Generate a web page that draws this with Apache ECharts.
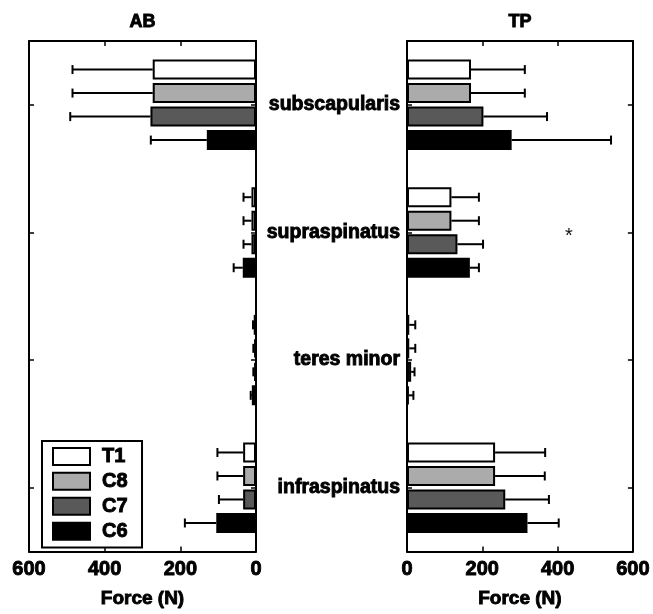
<!DOCTYPE html>
<html>
<head>
<meta charset="utf-8">
<script src="https://cdn.jsdelivr.net/npm/echarts@6/dist/echarts.min.js"></script>
<style>
  html, body { margin: 0; padding: 0; background: #fff; }
  #chart { width: 653px; height: 614px; }
</style>
</head>
<body>
<div id="chart"></div>
<script>
// Muscles (rows) and spinal levels (bar series)
const muscles = ['subscapularis', 'supraspinatus', 'teres minor', 'infraspinatus'];
const levels = ['T1', 'C8', 'C7', 'C6'];

// AB: mean force (N) per level, one value per muscle
const abMean = [
  [273, 12, 6, 34],
  [273, 12, 5, 34],
  [279, 12, 5, 34],
  [130, 35, 11, 105]
];
// AB: standard deviation (N)
const abSd = [
  [212, 21, 2, 68],
  [212, 21, 2, 68],
  [212, 21, 2, 64],
  [148, 24, 3, 83]
];

// TP: mean force (N)
const tpMean = [
  [170, 118, 6, 234],
  [170, 118, 6, 234],
  [203, 134, 11, 261],
  [278, 167, 5, 320]
];
// TP: standard deviation (N)
const tpSd = [
  [143, 73, 16, 133],
  [143, 73, 16, 132],
  [169, 68, 9, 116],
  [264, 24, 12, 83]
];

// Significance marks placed on the TP panel
const marks = [{ muscle: 'supraspinatus', value: 430, text: '*' }];

const forceTicks = { min: 0, max: 600, interval: 200 };

const fills = ['#ffffff', '#ababab', '#595959', '#000000'];
const FONT = 'Liberation Sans';
const BAR_W = 20;
const GAP_PCT = 0.175;
const GAP = BAR_W * GAP_PCT;
const TOTAL = levels.length * BAR_W + (levels.length - 1) * GAP;
const CAP = 4.5;

const chart = echarts.init(document.getElementById('chart'), null, { renderer: 'canvas' });

// Heavy black lettering used for every label
const boldText = {
  fontFamily: FONT, fontWeight: 'bold', color: '#000',
  textBorderColor: '#000', textBorderWidth: 0.9
};

function valueAxis(gridIndex, position, inverse, showLabels, name) {
  return {
    type: 'value',
    gridIndex,
    position,
    inverse,
    min: forceTicks.min,
    max: forceTicks.max,
    interval: forceTicks.interval,
    axisLine: { show: true, onZero: false, lineStyle: { color: '#000', width: 2 } },
    axisTick: { show: true, inside: true, length: 5, lineStyle: { color: '#000', width: 1.5 } },
    axisLabel: Object.assign({ show: showLabels, fontSize: 20, margin: 8 }, boldText),
    splitLine: { show: false },
    name,
    nameLocation: 'middle',
    nameGap: position === 'bottom' ? 38 : 10,
    nameTextStyle: Object.assign({ fontSize: position === 'bottom' ? 19 : 18 }, boldText)
  };
}

function categoryAxis(gridIndex, position, showLabels) {
  return {
    type: 'category',
    gridIndex,
    position,
    inverse: true,
    data: muscles,
    axisLine: { show: true, onZero: false, lineStyle: { color: '#000', width: 2 } },
    axisTick: { show: true, inside: true, alignWithLabel: true, length: 5, lineStyle: { color: '#000', width: 1.5 } },
    axisLabel: Object.assign({ show: showLabels, fontSize: 19.5, margin: 7 }, boldText),
    splitLine: { show: false }
  };
}

// Error bars: horizontal whisker from the bar end, with a vertical cap
function errorSeries(xAxisIndex, yAxisIndex, means, sds) {
  const data = [];
  levels.forEach((lv, k) => {
    muscles.forEach((m, i) => data.push([means[k][i], i, sds[k][i], k]));
  });
  return {
    type: 'custom',
    xAxisIndex,
    yAxisIndex,
    z: 1,
    silent: true,
    encode: { x: 0, y: 1 },
    data,
    renderItem(params, api) {
      const v = api.value(0), cat = api.value(1), sd = api.value(2), k = api.value(3);
      const a = api.coord([v, cat]);
      const b = api.coord([v + sd, cat]);
      const y = a[1] - TOTAL / 2 + k * (BAR_W + GAP) + BAR_W / 2;
      const st = { stroke: '#000', lineWidth: 2 };
      return {
        type: 'group',
        children: [
          { type: 'line', shape: { x1: a[0], y1: y, x2: b[0], y2: y }, style: st },
          { type: 'line', shape: { x1: b[0], y1: y - CAP, x2: b[0], y2: y + CAP }, style: st }
        ]
      };
    }
  };
}

function barSeries(xAxisIndex, yAxisIndex, means) {
  return levels.map((lv, k) => ({
    type: 'bar',
    name: lv,
    xAxisIndex,
    yAxisIndex,
    z: 2,
    barWidth: BAR_W,
    barGap: (GAP_PCT * 100) + '%',
    data: means[k],
    itemStyle: { color: fills[k], borderColor: '#000', borderWidth: 2 },
    emphasis: { disabled: true }
  }));
}

const markSeries = {
  type: 'custom',
  xAxisIndex: 2,
  yAxisIndex: 2,
  silent: true,
  encode: { x: 0, y: 1 },
  data: marks.map(m => [m.value, muscles.indexOf(m.muscle)]),
  renderItem(params, api) {
    const p = api.coord([api.value(0), api.value(1)]);
    return {
      type: 'text',
      x: p[0],
      y: p[1] + 4,
      style: {
        text: marks[params.dataIndex].text,
        fontFamily: FONT,
        fontSize: 20,
        fill: '#111',
        align: 'center',
        verticalAlign: 'middle'
      }
    };
  }
};

const option = {
  backgroundColor: '#fff',
  animation: false,
  grid: [
    { left: 29, top: 41, width: 227, height: 515, containLabel: false },
    { left: 407, top: 41, width: 226, height: 515, containLabel: false }
  ],
  xAxis: [
    valueAxis(0, 'bottom', true, true, 'Force (N)'),
    valueAxis(0, 'top', true, false, 'AB'),
    valueAxis(1, 'bottom', false, true, 'Force (N)'),
    valueAxis(1, 'top', false, false, 'TP')
  ],
  yAxis: [
    categoryAxis(0, 'left', false),
    categoryAxis(0, 'right', false),
    categoryAxis(1, 'left', true),
    categoryAxis(1, 'right', false)
  ],
  legend: {
    data: levels,
    orient: 'vertical',
    left: 42,
    top: 441,
    padding: [5, 14, 6, 10],
    itemWidth: 37,
    itemHeight: 17,
    itemGap: 4,
    icon: 'rect',
    borderColor: '#000',
    borderWidth: 2,
    backgroundColor: '#fff',
    selectedMode: false,
    textStyle: Object.assign({ fontSize: 20, padding: [0, 0, 0, 7] }, boldText)
  },
  series: [
    ...barSeries(0, 0, abMean),
    ...barSeries(2, 2, tpMean),
    errorSeries(0, 0, abMean, abSd),
    errorSeries(2, 2, tpMean, tpSd),
    markSeries
  ]
};

chart.setOption(option);
</script>
</body>
</html>
